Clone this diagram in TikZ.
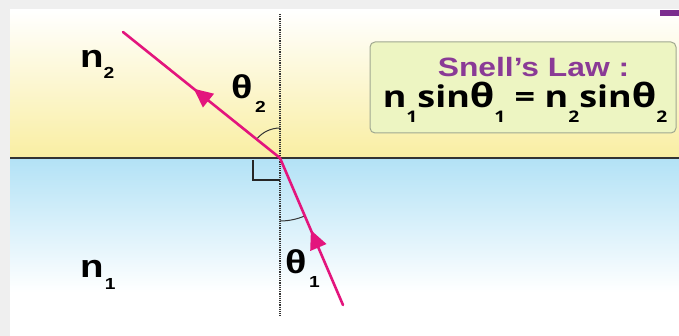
\documentclass[tikz,border=0pt]{standalone}
\usepackage{fontspec}
\setmainfont{Liberation Sans}
\newfontfamily\eqfont{Open Sans}
\usetikzlibrary{arrows.meta,decorations.markings}
\definecolor{framegray}{HTML}{EFEFEF}
\definecolor{yellowb}{HTML}{F9EEA2}
\definecolor{bluet}{HTML}{B3E2F6}
\definecolor{raycol}{HTML}{E3157D}
\definecolor{purpletxt}{HTML}{8A3A96}
\definecolor{boxfill}{HTML}{EDF5C2}
\definecolor{boxline}{HTML}{A0A890}
\definecolor{tabpurple}{HTML}{7B2D8E}
% lowered subscript: #1 text, #2 size, #3 raise
\newcommand\lowsub[3]{\raisebox{#3}{\fontsize{#2}{#2}\selectfont #1}}
\newcommand\wide[1]{\scalebox{1.2}[1]{#1}}
\tikzset{
  raypath/.style={draw=raycol, line width=2.6pt, line cap=round},
  rayarrow/.style={postaction=decorate, decoration={markings,
      mark=at position #1 with {\arrow[raycol]{Triangle[length=19pt,width=17pt]}}}},
  normalline/.style={draw=black!80, line width=1.8pt, dash pattern=on 1.2pt off 1.0pt},
  anglearc/.style={draw=black!80, line width=1pt},
  lab/.style={inner sep=0pt, font=\bfseries\fontsize{32}{32}\selectfont},
  thlab/.style={inner sep=0pt, font=\bfseries\fontsize{33}{33}\selectfont},
}
\begin{document}
\begin{tikzpicture}[x=1pt,y=-1pt]
\useasboundingbox (0,0) rectangle (679,336);
% background frame
\fill[framegray] (0,0) rectangle (679,336);
\fill[white] (10,10) rectangle (679,336);
\shade[top color=white, bottom color=yellowb] (10,10) rectangle (679,158);
\shade[top color=bluet, bottom color=white] (10,159) rectangle (679,292);
\fill[tabpurple] (660,10) rectangle (679,16);
% interface
\draw[line width=2pt, black!80] (10,158.5) -- (679,158.5);
% normal
\coordinate (O) at (280,158);
\coordinate (Ntop) at (280,14);
\coordinate (Nbot) at (280,316);
\draw[normalline] (Ntop) -- (Nbot);
% right angle marker
\coordinate (R1) at (253,160);
\coordinate (R2) at (253,180);
\coordinate (R3) at (280,180);
\draw[line width=2pt, black!85] (R1) -- (R2) -- (R3);
% angle arcs
\draw[anglearc] (O) ++(-141.3:30) arc[start angle=-141.3, end angle=-90, radius=30];
\draw[anglearc] (O) ++(66.8:63) arc[start angle=66.8, end angle=90, radius=63];
% rays
\coordinate (A) at (123,32);
\coordinate (B) at (343,305);
\draw[raypath, rayarrow=0.51] (B) -- (O);
\draw[raypath, rayarrow=0.55] (O) -- (A);
% labels
\node[lab, anchor=base west] (n2) at (80,68) {\wide{n\lowsub{2}{16}{-11pt}}};
\node[lab, anchor=base west] (n1) at (80,277) {\wide{n\hspace{1pt}\lowsub{1}{16}{-13pt}}};
\node[thlab, anchor=base west] (th2) at (231,99) {\wide{θ\hspace{2pt}\lowsub{2}{16}{-14pt}}};
\node[thlab, anchor=base west] (th1) at (285,273) {\wide{θ\hspace{2pt}\lowsub{1}{16}{-14pt}}};
% Snell's law box
\node[draw=boxline, fill=boxfill, rounded corners=5pt, line width=1pt,
      minimum width=306pt, minimum height=91pt, inner sep=0pt] (box) at (523,87.5) {};
\node[inner sep=0pt, anchor=base, text=purpletxt,
      font=\bfseries\fontsize{26.5}{26.5}\selectfont] (title) at (533.5,77) {\wide{Snell’s Law :}};
\node[inner sep=0pt, anchor=base,
      font=\eqfont\bfseries\fontsize{30}{30}\selectfont] (eq) at (525,108)
  {\wide{n\lowsub{1}{16}{-15pt}sin{\fontsize{33}{33}\selectfont θ}\lowsub{1}{16}{-15pt}
   = n\lowsub{2}{16}{-15pt}sin{\fontsize{33}{33}\selectfont θ}\lowsub{2}{16}{-15pt}}};
\end{tikzpicture}
\end{document}
